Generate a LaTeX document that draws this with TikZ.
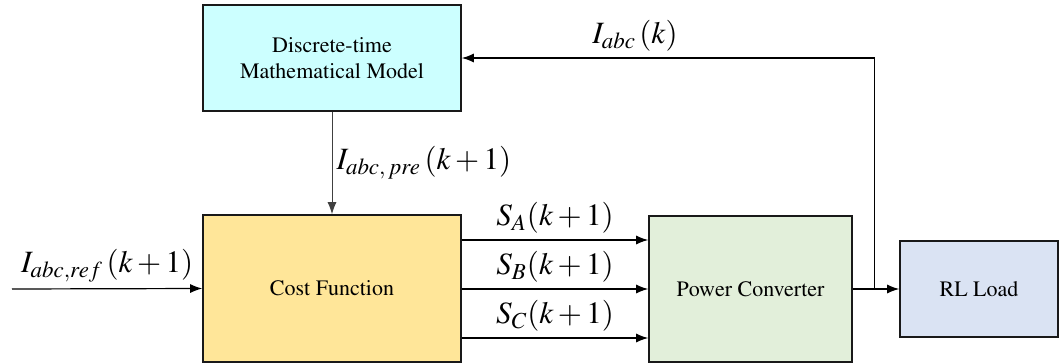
\documentclass[tikz,border=0pt]{standalone}
\usepackage[T1]{fontenc}
\usepackage{mathptmx}
\usepackage{tikz}
\usetikzlibrary{arrows.meta,positioning,calc}

\definecolor{modelcyan}{HTML}{CCFFFF}
\definecolor{costyellow}{HTML}{FFE699}
\definecolor{convgreen}{HTML}{E2EFDA}
\definecolor{loadblue}{HTML}{DAE3F3}

\tikzset{
  block/.style={draw=black!90, line width=0.8pt, align=center, font=\rmfamily\fontsize{11}{13}\selectfont},
  arr/.style={-{Latex[length=6pt,width=4.5pt]}, line width=0.6pt},
  lbl/.style={font=\fontsize{15.5}{17}\selectfont, inner sep=1pt, text=black}
}

\begin{document}
\begin{tikzpicture}[x=0.5pt, y=-0.5pt]
      \useasboundingbox (0,0) rectangle (1060,364);

      % Blocks
      \node[block, fill=modelcyan, minimum width=129pt, minimum height=53pt] (model) at (332,58) {Discrete-time\\Mathematical Model};
      \node[block, fill=costyellow, minimum width=129pt, minimum height=73.5pt] (cost) at (332,288.5) {Cost Function};
      \node[block, fill=convgreen, minimum width=101.5pt, minimum height=73pt] (conv) at (750.5,289) {Power Converter};
      \node[block, fill=loadblue, minimum width=79pt, minimum height=48pt] (load) at (979,289) {RL Load};

      % Helper points
      \coordinate (in) at (12,289);
      \coordinate (ya) at (0,240);
      \coordinate (yb) at (0,289);
      \coordinate (yc) at (0,338);
      \coordinate (tap) at ($(conv.east)!0.46!(load.west)$);

      % Arrows
      \draw[arr] (in) -- node[lbl, above=2pt] {$I_{abc,ref}\,(k+1)$} (cost.west);
      \draw[arr, line width=0.5pt, black!75] (model.south) -- node[lbl, right=1pt] {$I_{abc,\,pre}\,(k+1)$} (cost.north);
      \draw[arr] (cost.east |- ya) -- node[lbl, above=2pt] {$S_{A}(k+1)$} (conv.west |- ya);
      \draw[arr] (cost.east |- yb) -- node[lbl, above=2pt] {$S_{B}(k+1)$} (conv.west |- yb);
      \draw[arr] (cost.east |- yc) -- node[lbl, above=2pt] {$S_{C}(k+1)$} (conv.west |- yc);
      \draw[arr] (conv.east) -- (load.west);
      \draw[arr] (tap) |- node[lbl, above=2pt, pos=0.79] {$I_{abc}\,(k)$} (model.east);
    \end{tikzpicture}
\end{document}
